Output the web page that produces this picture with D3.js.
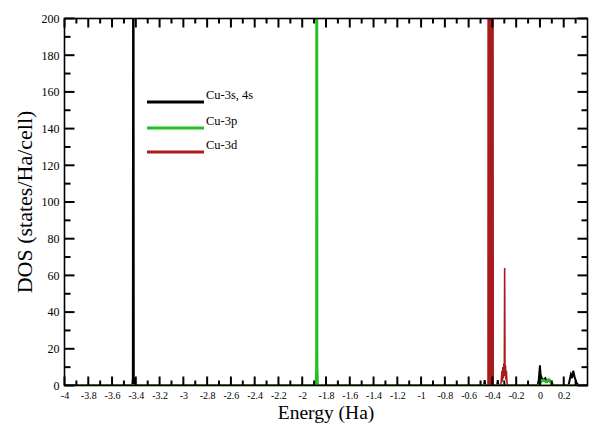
<!DOCTYPE html>
<html>
<head>
<meta charset="utf-8">
<script src="https://cdn.jsdelivr.net/npm/d3@7"></script>
<style>
  html, body { margin: 0; padding: 0; background: #fff; }
  svg { display: block; }
  text { font-family: "Liberation Serif", "Times New Roman", serif; fill: #000; }
</style>
</head>
<body>
<svg id="chart" width="590" height="423"></svg>
<script>
// Projected density of states of Cu, energy in Hartree
const xMajorTicks = [-4, -3.8, -3.6, -3.4, -3.2, -3, -2.8, -2.6, -2.4, -2.2, -2, -1.8, -1.6, -1.4, -1.2, -1, -0.8, -0.6, -0.4, -0.2, 0, 0.2];
const xMinorTicks = [-3.9, -3.7, -3.5, -3.3, -3.1, -2.9, -2.7, -2.5, -2.3, -2.1, -1.9, -1.7, -1.5, -1.3, -1.1, -0.9, -0.7, -0.5, -0.3, -0.1, 0.1, 0.3];
const yMajorTicks = [0, 20, 40, 60, 80, 100, 120, 140, 160, 180, 200];
const yMinorTicks = [10, 30, 50, 70, 90, 110, 130, 150, 170, 190];

const seriesNames = ["Cu-3s, 4s", "Cu-3p", "Cu-3d"];

// [energy, DOS] pairs for each projection
const dosCu3s4s = [
  [-4, 0], [-3.43, 0], [-3.425, 4], [-3.421, 430], [-3.417, 4], [-3.41, 0],
  [-0.47, 0], [-0.465, 3], [-0.46, 0], [-0.36, 0], [-0.355, 3], [-0.35, 0],
  [-0.02, 0], [-0.01, 3], [0, 11], [0.005, 6], [0.015, 4], [0.03, 3], [0.045, 4],
  [0.06, 2], [0.08, 3], [0.1, 1], [0.12, 0],
  [0.24, 0], [0.25, 3], [0.26, 6], [0.27, 4], [0.28, 8], [0.29, 5], [0.3, 3], [0.31, 1], [0.33, 0], [0.4, 0]
];
const dosCu3p = [
  [-4, 0], [-1.885, 0], [-1.88, 10], [-1.878, 430], [-1.875, 10], [-1.87, 0],
  [-0.01, 0], [0.01, 2], [0.03, 3], [0.05, 2], [0.07, 3], [0.09, 2], [0.1, 0], [0.4, 0]
];
const dosCu3d = [
  [-4, 0], [-0.437, 0], [-0.435, 420], [-0.431, 0], [-0.427, 400], [-0.423, 0],
  [-0.419, 410], [-0.415, 0], [-0.411, 420], [-0.407, 0], [-0.403, 400], [-0.399, 0],
  [-0.396, 380], [-0.393, 0],
  [-0.33, 0], [-0.325, 3], [-0.32, 8], [-0.316, 2], [-0.312, 10], [-0.308, 4],
  [-0.304, 12], [-0.3, 6], [-0.297, 64], [-0.294, 5], [-0.29, 11], [-0.286, 3],
  [-0.282, 8], [-0.278, 2], [-0.272, 0], [0.4, 0]
];

const seriesData = [dosCu3s4s, dosCu3p, dosCu3d];
const seriesColors = ["#000000", "#22c022", "#a81c1c"];
const seriesWidths = [2, 2.6, 1.6];

const svg = d3.select("#chart");
const plotLeft = 64.5, plotRight = 587.5, plotTop = 18.5, plotBottom = 385.5;

const x = d3.scaleLinear().domain([-4, 0.4]).range([plotLeft, plotRight]);
const y = d3.scaleLinear().domain([0, 200]).range([plotBottom, plotTop]);

svg.append("defs").append("clipPath").attr("id", "plotClip")
  .append("rect").attr("x", plotLeft).attr("y", plotTop)
  .attr("width", plotRight - plotLeft).attr("height", plotBottom - plotTop);

// curves
const line = d3.line().x(d => x(d[0])).y(d => y(d[1]));
const curves = svg.append("g").attr("clip-path", "url(#plotClip)");
seriesData.forEach((data, i) => {
  curves.append("path")
    .datum(data)
    .attr("d", line)
    .attr("fill", "none")
    .attr("stroke", seriesColors[i])
    .attr("stroke-width", seriesWidths[i])
    .attr("stroke-linejoin", "miter");
});

// tick labels from d3 axes
const xAxis = svg.append("g").attr("transform", `translate(0,${plotBottom})`)
  .call(d3.axisBottom(x).tickValues(xMajorTicks).tickSize(0).tickPadding(6)
    .tickFormat(d => String(+d.toFixed(1))));
xAxis.select(".domain").remove();
xAxis.selectAll("text").attr("font-size", 10).attr("font-family", "Liberation Serif").attr("fill", "#000");

const yAxis = svg.append("g").attr("transform", `translate(${plotLeft},0)`)
  .call(d3.axisLeft(y).tickValues(yMajorTicks).tickSize(0).tickPadding(5));
yAxis.select(".domain").remove();
yAxis.selectAll("text").attr("font-size", 12).attr("font-family", "Liberation Serif").attr("fill", "#000");

// frame
svg.append("rect")
  .attr("x", plotLeft).attr("y", plotTop)
  .attr("width", plotRight - plotLeft).attr("height", plotBottom - plotTop)
  .attr("fill", "none").attr("stroke", "#000").attr("stroke-width", 1.6);

// axis titles
svg.append("text")
  .attr("x", (plotLeft + plotRight) / 2).attr("y", 418.5)
  .attr("text-anchor", "middle").attr("font-size", 19.5)
  .text("Energy (Ha)");
svg.append("text")
  .attr("transform", `translate(32,${(plotTop + plotBottom) / 2}) rotate(-90)`)
  .attr("text-anchor", "middle").attr("font-size", 22)
  .text("DOS (states/Ha/cell)");

// legend
const legendY = [102, 128, 152];
const legend = svg.append("g");
seriesNames.forEach((name, i) => {
  legend.append("line")
    .attr("x1", 147).attr("x2", 204)
    .attr("y1", legendY[i]).attr("y2", legendY[i])
    .attr("stroke", seriesColors[i]).attr("stroke-width", 3);
  legend.append("text")
    .attr("x", 206).attr("y", legendY[i] - 3)
    .attr("font-size", 12.5)
    .text(name);
});

// inward tick marks on all four sides, one line element per mark
const tickMarks = [];
xMajorTicks.forEach(v => tickMarks.push({ axis: "x", v, len: 9 }));
xMinorTicks.forEach(v => tickMarks.push({ axis: "x", v, len: 5 }));
yMajorTicks.forEach(v => tickMarks.push({ axis: "y", v, len: 10 }));
yMinorTicks.forEach(v => tickMarks.push({ axis: "y", v, len: 6 }));

const tickLayer = svg.append("g").attr("class", "tick-marks");
tickLayer.selectAll("line.tb").data(tickMarks.filter(t => t.axis === "x")).join("line")
  .attr("class", "tb")
  .attr("x1", d => x(d.v)).attr("x2", d => x(d.v))
  .attr("y1", plotBottom).attr("y2", d => plotBottom - d.len)
  .style("stroke", "#000").style("stroke-width", "2px");
tickLayer.selectAll("line.tt").data(tickMarks.filter(t => t.axis === "x")).join("line")
  .attr("class", "tt")
  .attr("x1", d => x(d.v)).attr("x2", d => x(d.v))
  .attr("y1", plotTop).attr("y2", d => plotTop + d.len)
  .style("stroke", "#000").style("stroke-width", "2px");
tickLayer.selectAll("line.tl").data(tickMarks.filter(t => t.axis === "y")).join("line")
  .attr("class", "tl")
  .attr("y1", d => y(d.v)).attr("y2", d => y(d.v))
  .attr("x1", plotLeft).attr("x2", d => plotLeft + d.len)
  .style("stroke", "#000").style("stroke-width", "2px");
tickLayer.selectAll("line.tr").data(tickMarks.filter(t => t.axis === "y")).join("line")
  .attr("class", "tr")
  .attr("y1", d => y(d.v)).attr("y2", d => y(d.v))
  .attr("x1", plotRight).attr("x2", d => plotRight - d.len)
  .style("stroke", "#000").style("stroke-width", "2px");
</script>
</body>
</html>
